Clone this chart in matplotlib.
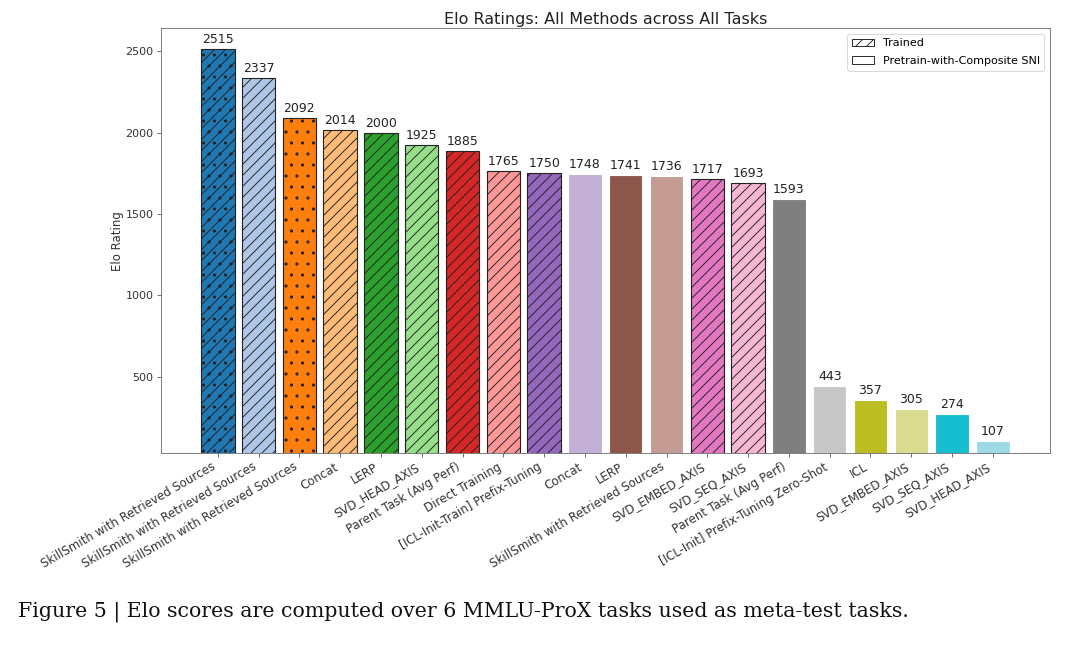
import matplotlib
matplotlib.use("Agg")
import matplotlib.pyplot as plt
from matplotlib.patches import Patch

methods = [
    "SkillSmith with Retrieved Sources", "SkillSmith with Retrieved Sources",
    "SkillSmith with Retrieved Sources", "Concat", "LERP", "SVD_HEAD_AXIS",
    "Parent Task (Avg Perf)", "Direct Training", "[ICL-Init-Train] Prefix-Tuning",
    "Concat", "LERP", "SkillSmith with Retrieved Sources", "SVD_EMBED_AXIS",
    "SVD_SEQ_AXIS", "Parent Task (Avg Perf)", "[ICL-Init] Prefix-Tuning Zero-Shot",
    "ICL", "SVD_EMBED_AXIS", "SVD_SEQ_AXIS", "SVD_HEAD_AXIS",
]
elo = [2515, 2337, 2092, 2014, 2000, 1925, 1885, 1765, 1750, 1748,
       1741, 1736, 1717, 1693, 1593, 443, 357, 305, 274, 107]
trained = [1, 1, 0, 1, 1, 1, 1, 1, 1, 0, 0, 0, 1, 1, 0, 0, 0, 0, 0, 0]
pretrain_sni = [1, 0, 1, 0, 0, 0, 0, 0, 0, 0, 0, 0, 0, 0, 0, 0, 0, 0, 0, 0]

DPI = 1080 / 16.2
S = 100.0 / DPI  # point scale relative to a 100-dpi rendering
plt.rcParams['hatch.linewidth'] = 1.0
fig = plt.figure(figsize=(16.2, 9.675), dpi=DPI)
ax = fig.add_axes([0.1488, 0.2972, 0.8234, 0.6588])

cmap = plt.get_cmap('tab20')
x = list(range(len(methods)))
for i, v in enumerate(elo):
    h = ''
    if trained[i]:
        h += '//'
    if pretrain_sni[i]:
        h += '.'
    ec = '#222222' if h else 'white'
    ax.bar(i, v, width=0.82, color=cmap(i), edgecolor=ec, linewidth=1.2,
           hatch=h if h else None)
    ax.text(i, v + 18, f"{v}", ha='center', va='bottom', fontsize=9 * S, color='#222222')

ax.set_xlim(-1.4, 20.4)
ax.set_ylim(30, max(elo) * 1.05)
ax.set_yticks([500, 1000, 1500, 2000, 2500])
ax.set_xticks(x)
ax.set_xticklabels(methods, rotation=30, ha='right', fontsize=8.5 * S, color='#333333')
ax.tick_params(axis='y', labelsize=8 * S, colors='#333333')
ax.tick_params(axis='both', color='#666666', length=4.3, width=1.0, pad=3.3)
for s in ax.spines.values():
    s.set_color('#777777')
    s.set_linewidth(1.0)
ax.set_ylabel("Elo Rating", fontsize=8.5 * S, color='#333333', labelpad=2)
ax.set_title("Elo Ratings: All Methods across All Tasks", fontsize=11.5 * S, pad=4.5, color='#222222')

handles = [Patch(facecolor='white', edgecolor='#222222', linewidth=1.0, hatch='//', label='Trained'),
           Patch(facecolor='white', edgecolor='#222222', linewidth=1.0, hatch='.', label='Pretrain-with-Composite SNI')]
leg = ax.legend(handles=handles, loc='upper right', fontsize=8 * S, frameon=True, labelspacing=0.7)
leg.get_frame().set_edgecolor('#cccccc')
leg.get_frame().set_linewidth(1.0)

fig.text(0.017, 0.051, "Figure 5 | Elo scores are computed over 6 MMLU-ProX tasks used as meta-test tasks.",
         fontsize=14.75 * S, family='DejaVu Serif', color='#111111', ha='left', va='center')

fig.savefig("out.png", dpi=DPI)
